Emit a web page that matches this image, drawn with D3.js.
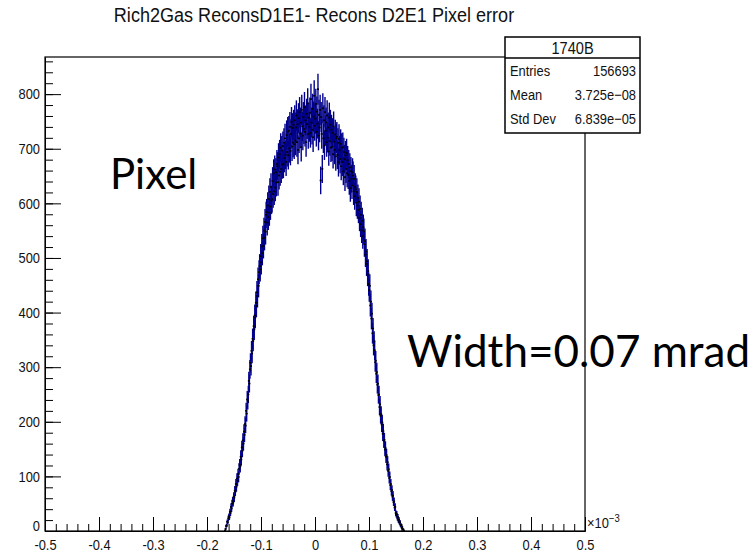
<!DOCTYPE html>
<html>
<head>
<meta charset="utf-8">
<script src="https://cdn.jsdelivr.net/npm/d3@7"></script>
<style>
  body { margin: 0; background: #fff; }
  svg { display: block; }
</style>
</head>
<body>
<svg id="chart" width="755" height="555"></svg>
<script>
// ---- histogram definition ----
const titleText = "Rich2Gas ReconsD1E1- Recons D2E1 Pixel error";
const histName = "1740B";
const statLabels = ["Entries", "Mean", "Std Dev"];
const statValues = ["156693", "3.725e\u221208", "6.839e\u221205"];

const xRange = [-0.5, 0.5];      // axis range, units of 10^-3
const nBins = 1000;
const firstBin = 333;            // index of the first filled bin
const yTop = 868;

// bin contents, starting at bin firstBin
const counts = [
  1, 4, 9, 10, 17, 16, 23,
  27, 25, 35, 33, 44, 41, 50, 55, 52, 63,
  61, 74, 72, 86, 81, 96, 92, 104, 99, 114,
  121, 118, 136, 131, 153, 147, 166, 160, 182, 176,
  196, 193, 220, 215, 241, 238, 250, 275, 270, 296,
  308, 302, 330, 325, 352, 348, 375, 369, 395, 391,
  418, 412, 437, 430, 461, 449, 474, 485, 479, 503,
  492, 521, 509, 536, 522, 550, 537, 566, 548, 579,
  584, 565, 596, 575, 608, 583, 621, 594, 630, 605,
  608, 641, 617, 655, 622, 662, 629, 657, 638, 672,
  668, 639, 684, 651, 690, 658, 702, 663, 697, 671,
  705, 672, 711, 683, 719, 689, 676, 725, 694, 731,
  688, 733, 701, 740, 696, 727, 749, 704, 738, 711,
  744, 708, 752, 715, 739, 761, 712, 745, 698, 756,
  719, 767, 728, 748, 703, 771, 741, 724, 758, 736,
  776, 731, 752, 712, 764, 745, 783, 727, 757, 740,
  766, 729, 791, 748, 735, 773, 721, 759, 797, 742,
  755, 782, 731, 768, 746, 809, 724, 762, 739, 771,
  642, 758, 727, 663, 774, 719, 752, 706, 767, 733,
  748, 712, 761, 720, 739, 695, 757, 714, 744, 702,
  735, 704, 729, 690, 741, 713, 698, 726, 686, 719,
  722, 689, 711, 675, 718, 697, 681, 709, 668, 702,
  676, 703, 659, 694, 681, 648, 688, 663, 692, 655,
  679, 652, 672, 641, 666, 628, 659, 645, 633, 657,
  651, 622, 645, 613, 630, 626, 601, 621, 596, 610,
  588, 603, 573, 590, 562, 579, 551, 568, 540, 556,
  549, 525, 531, 506, 512, 489, 494, 470, 476, 452,
  441, 449, 413, 420, 389, 398, 362, 371, 340, 347,
  331, 309, 312, 288, 291, 268, 270, 249, 250, 227,
  232, 211, 214, 195, 199, 178, 183, 165, 167, 149,
  152, 136, 139, 122, 126, 110, 113, 97, 99, 84,
  86, 73, 75, 63, 65, 53, 54, 43, 44, 33,
  30, 31, 24, 26, 19, 21, 15, 16, 10, 11,
  6, 7, 3, 3, 1
];

const xTickValues = [-0.5, -0.4, -0.3, -0.2, -0.1, 0, 0.1, 0.2, 0.3, 0.4, 0.5];
const xTickLabels = ["-0.5", "-0.4", "-0.3", "-0.2", "-0.1", "0", "0.1", "0.2", "0.3", "0.4", "0.5"];
const yTickValues = [0, 100, 200, 300, 400, 500, 600, 700, 800];
const yTickLabels = ["0", "100", "200", "300", "400", "500", "600", "700", "800"];
const xMinorStep = 0.02;
const yMinorStep = 20;

const noteLeft = "Pixel";
const noteRight = "Width=0.07 mrad";

// ---- layout ----
const frame = { left: 45, right: 585, top: 57, bottom: 531 };
const SX = 0.86;                       // horizontal squeeze of the plot lettering
const plotFont = "'Liberation Sans', Arial, Helvetica, sans-serif";
const inkColor = "#111";
const lineColor = "#00008c";

const svg = d3.select("#chart");

const x = d3.scaleLinear().domain(xRange).range([frame.left, frame.right]);
const y = d3.scaleLinear().domain([0, yTop]).range([frame.bottom, frame.top]);

const binWidth = (xRange[1] - xRange[0]) / nBins;
const bins = counts.map((c, i) => {
  const lo = xRange[0] + (firstBin + i) * binWidth;
  return { lo, hi: lo + binWidth, mid: lo + binWidth / 2, c, e: Math.sqrt(c) };
});

svg.append("clipPath").attr("id", "frameClip")
  .append("rect")
  .attr("x", frame.left).attr("y", frame.top)
  .attr("width", frame.right - frame.left).attr("height", frame.bottom - frame.top);

const plot = svg.append("g").attr("clip-path", "url(#frameClip)");

// vertical error bars
plot.append("g")
  .attr("stroke", lineColor).attr("stroke-width", 1.4)
  .selectAll("line").data(bins).join("line")
  .attr("x1", d => x(d.mid)).attr("x2", d => x(d.mid))
  .attr("y1", d => y(Math.max(0, d.c - d.e))).attr("y2", d => y(d.c + d.e));

// horizontal (bin width) bars
plot.append("g")
  .attr("stroke", lineColor).attr("stroke-width", 1.4)
  .selectAll("line").data(bins).join("line")
  .attr("x1", d => x(d.lo)).attr("x2", d => x(d.hi))
  .attr("y1", d => y(d.c)).attr("y2", d => y(d.c));

// markers
plot.append("g").attr("fill", "#000")
  .selectAll("rect").data(bins).join("rect")
  .attr("x", d => x(d.mid) - 1).attr("y", d => y(d.c) - 0.8)
  .attr("width", 2).attr("height", 1.6);

// ---- axes (ticks point into the frame) ----
function squeeze(sel) {
  sel.each(function () {
    const t = d3.select(this);
    const tx = +t.attr("x") || 0;
    t.attr("x", tx / SX).attr("transform", `scale(${SX},1)`);
  });
}

const xMinor = d3.range(xRange[0], xRange[1] + 1e-9, xMinorStep);
const yMinor = d3.range(0, yTop, yMinorStep);

const gxMinor = svg.append("g").attr("transform", `translate(0,${frame.bottom})`)
  .call(d3.axisBottom(x).tickValues(xMinor).tickSize(-7).tickSizeOuter(0).tickFormat(""));
const gx = svg.append("g").attr("transform", `translate(0,${frame.bottom})`)
  .call(d3.axisBottom(x).tickValues(xTickValues).tickSize(-14).tickSizeOuter(0)
    .tickPadding(8).tickFormat((d, i) => xTickLabels[i]));

const gyMinor = svg.append("g").attr("transform", `translate(${frame.left},0)`)
  .call(d3.axisLeft(y).tickValues(yMinor).tickSize(-8).tickSizeOuter(0).tickFormat(""));
const gy = svg.append("g").attr("transform", `translate(${frame.left},0)`)
  .call(d3.axisLeft(y).tickValues(yTickValues).tickSize(-16).tickSizeOuter(0)
    .tickPadding(5).tickFormat((d, i) => yTickLabels[i]));

[gx, gxMinor, gy, gyMinor].forEach(g => {
  g.selectAll("path.domain").attr("stroke", "#000");
  g.selectAll(".tick line").attr("stroke", "#000");
  g.selectAll("text").attr("fill", inkColor).style("font-family", plotFont).style("font-size", "15px");
});
gx.selectAll("text").call(squeeze);
gy.selectAll("text").call(squeeze);
// the zero label sits just above the x-axis labels
gy.selectAll(".tick").filter(d => d === 0).select("text").attr("dy", "-0.05em");

// frame
svg.append("rect")
  .attr("x", frame.left).attr("y", frame.top)
  .attr("width", frame.right - frame.left).attr("height", frame.bottom - frame.top)
  .attr("fill", "none").attr("stroke", "#000").attr("stroke-width", 1.2);

// axis exponent
const expo = svg.append("text")
  .attr("transform", `translate(${frame.right + 2},${frame.bottom - 3}) scale(${SX},1)`)
  .style("font-family", plotFont).style("font-size", "15px").attr("fill", inkColor);
expo.append("tspan").text("\u00d710");
expo.append("tspan").attr("dy", -6).style("font-size", "11px").text("\u22123");

// ---- title ----
svg.append("text")
  .attr("transform", `translate(314,22) scale(${SX},1)`)
  .attr("text-anchor", "middle")
  .style("font-family", plotFont).style("font-size", "21px").attr("fill", inkColor)
  .text(titleText);

// ---- statistics box ----
const box = { x: 505, y: 37, w: 135, headH: 21, rowH: 24 };
const boxH = box.headH + statLabels.length * box.rowH + 3;
const sb = svg.append("g");
sb.append("rect").attr("x", box.x).attr("y", box.y).attr("width", box.w).attr("height", boxH)
  .attr("fill", "#fff").attr("stroke", "#000").attr("stroke-width", 1.5);
sb.append("line").attr("x1", box.x).attr("x2", box.x + box.w)
  .attr("y1", box.y + box.headH).attr("y2", box.y + box.headH)
  .attr("stroke", "#000").attr("stroke-width", 1.5);
sb.append("text")
  .attr("transform", `translate(${box.x + box.w / 2},${box.y + 17}) scale(${SX},1)`)
  .attr("text-anchor", "middle")
  .style("font-family", plotFont).style("font-size", "17px").attr("fill", inkColor)
  .text(histName);
statLabels.forEach((lab, i) => {
  const by = box.y + box.headH + 18 + i * box.rowH;
  sb.append("text")
    .attr("transform", `translate(${box.x + 5},${by}) scale(${SX},1)`)
    .style("font-family", plotFont).style("font-size", "15px").attr("fill", inkColor)
    .text(lab);
  sb.append("text")
    .attr("transform", `translate(${box.x + box.w - 4},${by}) scale(${SX},1)`)
    .attr("text-anchor", "end")
    .style("font-family", plotFont).style("font-size", "15px").attr("fill", inkColor)
    .text(statValues[i]);
});

// ---- annotations ----
const noteFont = "Lato, 'Open Sans', sans-serif";
svg.append("text").attr("x", 110).attr("y", 189)
  .style("font-family", noteFont).style("font-size", "42px").attr("fill", "#000")
  .text(noteLeft);
svg.append("text").attr("x", 407).attr("y", 367)
  .style("font-family", noteFont).style("font-size", "44px").attr("fill", "#000")
  .text(noteRight);
</script>
</body>
</html>
